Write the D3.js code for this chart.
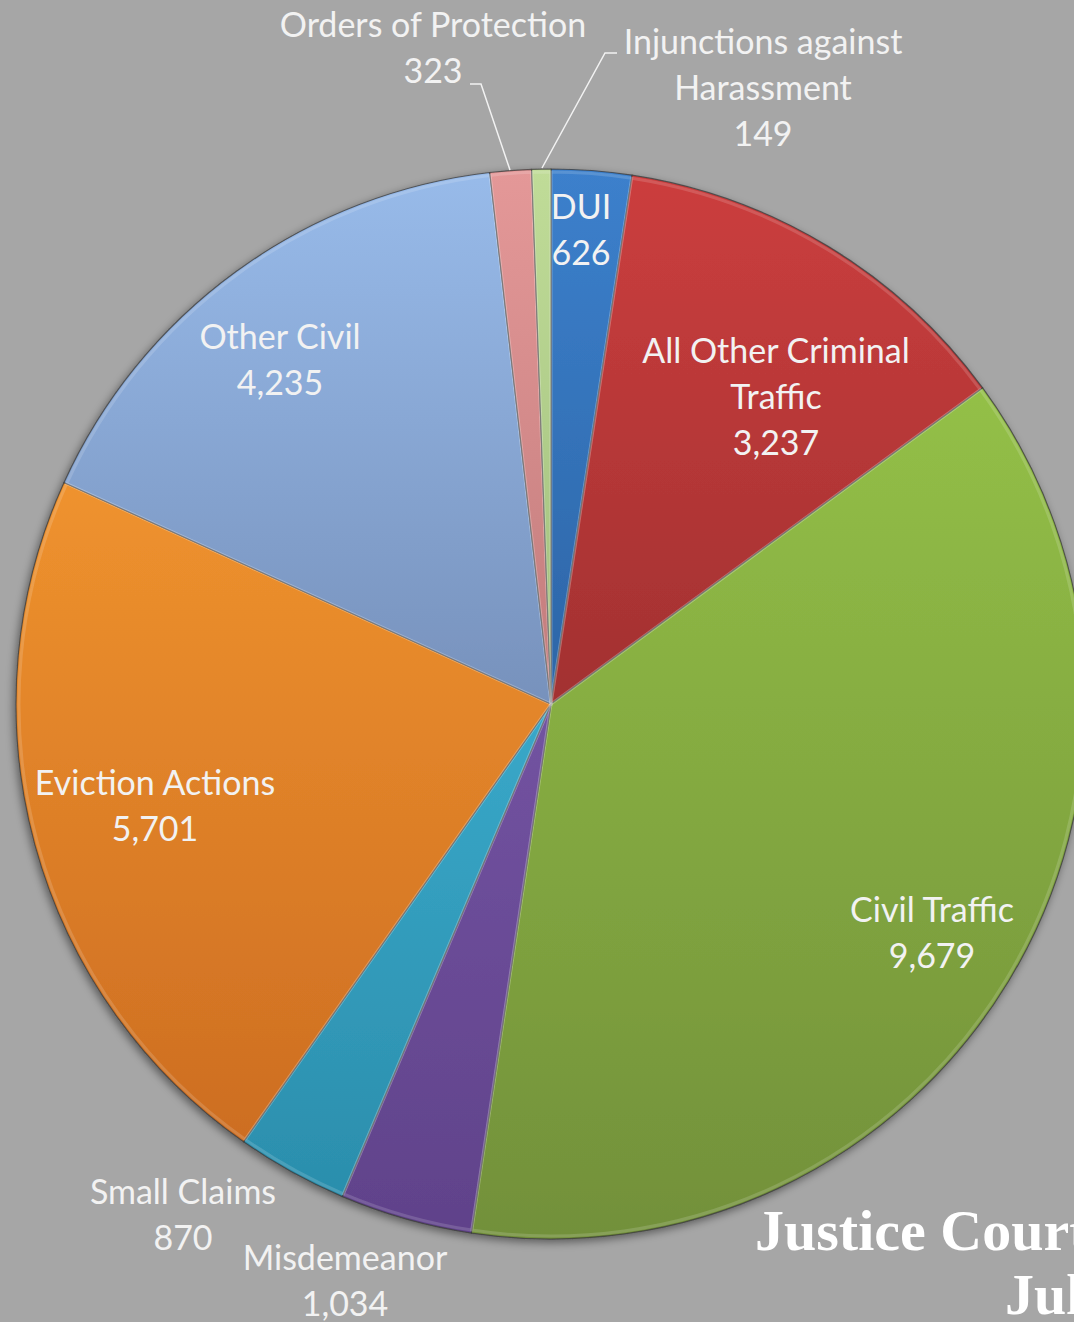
<!DOCTYPE html>
<html>
<head>
<meta charset="utf-8">
<script src="https://cdn.jsdelivr.net/npm/d3@7"></script>
<style>
  html, body { margin: 0; padding: 0; background: #a6a6a6; overflow: hidden; }
  svg { display: block; }
  .lbl { font-family: Lato, "Open Sans", sans-serif; fill: #f2f2f2; }
  .title { font-family: "Liberation Serif", serif; font-weight: bold; fill: #fff; }
</style>
</head>
<body>
<svg class="root"></svg>
<script>
// case types, clockwise from 12 o'clock
var categories = ["DUI", "All Other Criminal Traffic", "Civil Traffic", "Misdemeanor",
  "Small Claims", "Eviction Actions", "Other Civil", "Orders of Protection",
  "Injunctions against Harassment"];
var counts = [626, 3237, 9679, 1034, 870, 5701, 4235, 323, 149];

// shading: colour at the top of the pie and at the bottom of the pie
var topColors = ["#3c80cc", "#cc3e3e", "#9ccc4a", "#8464b8", "#48c4e8", "#ffa434", "#98bbea", "#e49898", "#c0dc98"];
var botColors = ["#1c4a80", "#782424", "#72903a", "#60428a", "#2a8caa", "#c86820", "#56688e", "#a06060", "#80a060"];

// label lines + anchor points (x center, first baseline)
var labelLines = [
  ["DUI", "626"],
  ["All Other Criminal", "Traffic", "3,237"],
  ["Civil Traffic", "9,679"],
  ["Misdemeanor", "1,034"],
  ["Small Claims", "870"],
  ["Eviction Actions", "5,701"],
  ["Other Civil", "4,235"],
  ["Orders of Protection", "323"],
  ["Injunctions against", "Harassment", "149"]
];
var labelPos = [[581, 219], [776, 363], [932, 922], [345, 1270], [183, 1204],
  [155, 795], [280, 349], [433, 37], [763, 54]];

var width = 1074, height = 1322,
    cx = 551, cy = 704, radius = 535, lineH = 46;

var svg = d3.select(".root").attr("width", width).attr("height", height);
var defs = svg.append("defs");

var shadow = defs.append("filter").attr("id", "shadow")
    .attr("x", "-10%").attr("y", "-10%").attr("width", "120%").attr("height", "120%");
shadow.append("feDropShadow").attr("dx", -2).attr("dy", 3).attr("stdDeviation", 4)
    .attr("flood-color", "#000").attr("flood-opacity", 0.45);

// gradients are in the pie group's coordinates (centre at 0,0)
categories.forEach((c, i) => {
  var g = defs.append("linearGradient").attr("id", "grad" + i)
      .attr("gradientUnits", "userSpaceOnUse")
      .attr("x1", 0).attr("y1", -radius).attr("x2", 0).attr("y2", radius);
  g.append("stop").attr("offset", "0%").attr("stop-color", topColors[i]);
  g.append("stop").attr("offset", "100%").attr("stop-color", botColors[i]);
});

var pie = d3.pie().sort(null).value((d) => d);
var arc = d3.arc().innerRadius(0).outerRadius(radius);
var bevel = d3.arc().innerRadius(0).outerRadius(radius - 3);

var g = svg.append("g").attr("transform", "translate(" + cx + "," + cy + ")");

var slices = g.append("g").attr("filter", "url(#shadow)");
slices.selectAll("path.slice")
    .data(pie(counts))
  .enter().append("path")
    .attr("class", "slice")
    .attr("d", arc)
    .style("fill", (d, i) => "url(#grad" + i + ")")
    .style("stroke", "#3a3a3a")
    .style("stroke-opacity", 0.75)
    .style("stroke-width", 1.2)
    .style("stroke-linejoin", "round");

// soft light rim for the bevel look
g.selectAll("path.rim")
    .data(pie(counts))
  .enter().append("path")
    .attr("class", "rim")
    .attr("d", bevel)
    .style("fill", "none")
    .style("stroke", "#fff")
    .style("stroke-opacity", 0.15)
    .style("stroke-width", 3);

// leader lines for the two thin slices
var leaders = [
  [[470, 84], [481, 84], [510, 170]],
  [[617, 53], [605, 53], [542, 168]]
];
svg.selectAll("path.leader")
    .data(leaders)
  .enter().append("path")
    .attr("class", "leader")
    .attr("d", d3.line())
    .style("fill", "none")
    .style("stroke", "#f2f2f2")
    .style("stroke-width", 1.5);

var labels = svg.selectAll("text.lbl")
    .data(labelLines)
  .enter().append("text")
    .attr("class", "lbl")
    .attr("text-anchor", "middle")
    .style("font-size", "34px");

labels.selectAll("tspan")
    .data((d, i) => d.map((t) => ({ t: t, i: i })))
  .enter().append("tspan")
    .attr("x", (d) => labelPos[d.i][0])
    .attr("y", (d, j) => labelPos[d.i][1] + j * lineH)
    .text((d) => d.t);

svg.append("text").attr("class", "title")
    .attr("x", 755).attr("y", 1250)
    .style("font-size", "58px")
    .text("Justice Court Filings");
svg.append("text").attr("class", "title")
    .attr("x", 1005).attr("y", 1314)
    .style("font-size", "58px")
    .text("July 2015");
</script>
</body>
</html>
